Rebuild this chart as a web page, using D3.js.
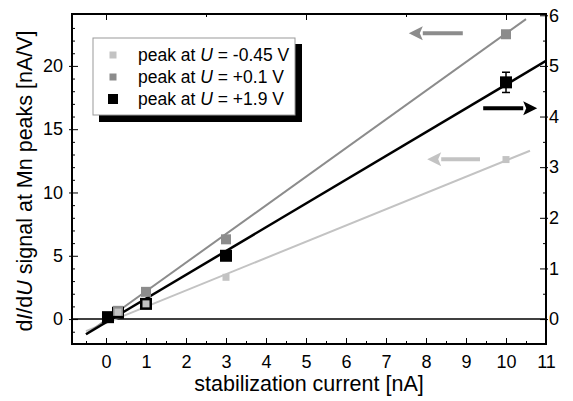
<!DOCTYPE html>
<html lang="en">
<head>
    <meta charset="UTF-8">
    <title>dI/dU signal vs stabilization current</title>
    <script src="https://d3js.org/d3.v7.min.js"></script>
    <style>
        body {
            margin: 0;
            background: #fff;
            font-family: "Liberation Sans", Arial, sans-serif;
        }
        .tick text {
            font-size: 18px;
            fill: #000;
        }
        .axis path, .axis line {
            stroke: #000;
        }
    </style>
</head>
<body>
    <svg id="chart" width="573" height="401"></svg>
    <script>
        // Data
        const seriesNames = ["-0.45 V", "+0.1 V", "+1.9 V"];
        const seriesColors = ["#c3c3c3", "#8c8c8c", "#000000"];

        const xLight = [0.3, 1, 3, 10];
        const yLight = [0.55, 1.2, 3.3, 12.6];
        const xGray = [0.3, 1, 3, 10];
        const yGray = [0.65, 2.15, 6.3, 22.5];
        const xBlack = [0.05, 0.3, 1, 3, 10];
        const yBlack = [0.15, 0.5, 1.2, 5.0, 18.7];
        const errBlack = [0, 0, 0, 0, 0.8];

        // fitted lines: [x start, y start, x end, y end]
        const fitLight = [-0.5, -0.95, 10.6, 13.3];
        const fitGray = [-0.5, -1.2, 10.5, 23.7];
        const fitBlack = [-0.5, -1.2, 11, 20.4];

        const xTicks = [0, 1, 2, 3, 4, 5, 6, 7, 8, 9, 10, 11];
        const yTicks = [0, 5, 10, 15, 20];
        const yRightTicks = [0, 1, 2, 3, 4, 5, 6];

        // Layout
        const pLeft = 72, pRight = 546, pTop = 14, pBottom = 344;
        const svg = d3.select("#chart");

        const x = d3.scaleLinear().domain([-0.85, 11]).range([pLeft, pRight]);
        const y = d3.scaleLinear().domain([-1.97, 24.1]).range([pBottom, pTop]);
        const yR = d3.scaleLinear().domain([-1.97 / 4, 24.1 / 4]).range([pBottom, pTop]);

        // minor ticks
        const xMinor = d3.range(-0.5, 11, 0.5).filter(v => !Number.isInteger(v));
        const yMinor = d3.range(-1, 24, 1).filter(v => v % 5 !== 0);
        const yRMinor = d3.range(0.5, 6, 1);

        function minor(axis) {
            return g => {
                g.call(axis);
                g.select(".domain").remove();
                g.selectAll("text").remove();
            };
        }

        // bottom
        svg.append("g").attr("class", "axis")
            .attr("transform", `translate(0,${pBottom})`)
            .call(minor(d3.axisBottom(x).tickValues(xMinor).tickSize(-3)));
        const gx = svg.append("g").attr("class", "axis")
            .attr("transform", `translate(0,${pBottom})`)
            .call(d3.axisBottom(x).tickValues(xTicks).tickSize(-6).tickPadding(11).tickSizeOuter(0));
        gx.select(".domain").remove();

        // top (ticks every 2.5)
        svg.append("g").attr("class", "axis")
            .attr("transform", `translate(0,${pTop})`)
            .call(minor(d3.axisTop(x).tickValues([0, 5, 10]).tickSize(-6)));
        svg.append("g").attr("class", "axis")
            .attr("transform", `translate(0,${pTop})`)
            .call(minor(d3.axisTop(x).tickValues([2.5, 7.5]).tickSize(-3)));

        // left
        svg.append("g").attr("class", "axis")
            .attr("transform", `translate(${pLeft},0)`)
            .call(minor(d3.axisLeft(y).tickValues(yMinor).tickSize(-3)));
        const gy = svg.append("g").attr("class", "axis")
            .attr("transform", `translate(${pLeft},0)`)
            .call(d3.axisLeft(y).tickValues(yTicks).tickSize(-6).tickPadding(9).tickSizeOuter(0));
        gy.select(".domain").remove();
        gy.selectAll(".tick line").attr("x1", -3);

        // right
        svg.append("g").attr("class", "axis")
            .attr("transform", `translate(${pRight},0)`)
            .call(minor(d3.axisRight(yR).tickValues(yRMinor).tickSize(-3)));
        const gyr = svg.append("g").attr("class", "axis")
            .attr("transform", `translate(${pRight},0)`)
            .call(d3.axisRight(yR).tickValues(yRightTicks).tickFormat(d3.format("d"))
                .tickSize(-6).tickPadding(3).tickSizeOuter(0));
        gyr.select(".domain").remove();
        gyr.selectAll(".tick line").attr("x1", 2);

        // frame
        svg.append("rect")
            .attr("x", pLeft).attr("y", pTop)
            .attr("width", pRight - pLeft).attr("height", pBottom - pTop)
            .attr("fill", "none").attr("stroke", "#000").attr("stroke-width", 2);

        // zero line
        svg.append("line")
            .attr("x1", pLeft).attr("x2", pRight)
            .attr("y1", y(0)).attr("y2", y(0))
            .attr("stroke", "#000").attr("stroke-width", 1.5);

        // fit lines
        const fits = [
            { f: fitLight, c: seriesColors[0], w: 2 },
            { f: fitGray, c: seriesColors[1], w: 2 },
            { f: fitBlack, c: seriesColors[2], w: 2.5 }
        ];
        svg.append("clipPath").attr("id", "clip")
            .append("rect").attr("x", pLeft).attr("y", pTop)
            .attr("width", pRight - pLeft).attr("height", pBottom - pTop);
        svg.append("g").attr("clip-path", "url(#clip)")
            .selectAll("line").data(fits).enter().append("line")
            .attr("x1", d => x(d.f[0])).attr("y1", d => y(d.f[1]))
            .attr("x2", d => x(d.f[2])).attr("y2", d => y(d.f[3]))
            .attr("stroke", d => d.c).attr("stroke-width", d => d.w);

        // error bars (black series)
        const errG = svg.append("g");
        xBlack.forEach((xv, i) => {
            if (!errBlack[i]) return;
            const cx = x(xv), y1 = y(yBlack[i] - errBlack[i]), y2 = y(yBlack[i] + errBlack[i]);
            errG.append("line").attr("x1", cx).attr("x2", cx).attr("y1", y1).attr("y2", y2)
                .attr("stroke", "#000").attr("stroke-width", 1.5);
            [y1, y2].forEach(yy => errG.append("line")
                .attr("x1", cx - 4).attr("x2", cx + 4).attr("y1", yy).attr("y2", yy)
                .attr("stroke", "#000").attr("stroke-width", 1.5));
        });

        // points
        function squares(xs, ys, color, size) {
            svg.append("g").selectAll("rect")
                .data(xs.map((v, i) => [v, ys[i]]))
                .enter().append("rect")
                .attr("x", d => x(d[0]) - size / 2)
                .attr("y", d => y(d[1]) - size / 2)
                .attr("width", size).attr("height", size)
                .attr("fill", color);
        }
        squares(xBlack, yBlack, seriesColors[2], 12);
        squares(xGray, yGray, seriesColors[1], 10);
        squares(xLight, yLight, seriesColors[0], 7);

        // arrows
        const arrows = [
            { x0: 8.92, x1: 7.57, yv: 22.57, c: "#8c8c8c" },
            { x0: 9.35, x1: 8.03, yv: 12.63, c: "#c3c3c3" },
            { x0: 9.43, x1: 10.78, yv: 16.65, c: "#000" }
        ];
        arrows.forEach(a => {
            const sx = x(a.x0), ex = x(a.x1), yy = y(a.yv);
            const dir = Math.sign(ex - sx);
            const hl = 14, hw = 7;
            svg.append("line")
                .attr("x1", sx).attr("x2", ex - dir * hl).attr("y1", yy).attr("y2", yy)
                .attr("stroke", a.c).attr("stroke-width", 4);
            svg.append("path")
                .attr("d", `M${ex},${yy}L${ex - dir * hl},${yy - hw}L${ex - dir * (hl - 3)},${yy}L${ex - dir * hl},${yy + hw}Z`)
                .attr("fill", a.c);
        });

        // legend
        const lg = svg.append("g").attr("transform", "translate(93,38)");
        lg.append("rect").attr("x", 6).attr("y", 6).attr("width", 203).attr("height", 78).attr("fill", "#000");
        lg.append("rect").attr("x", 0).attr("y", 0).attr("width", 202).attr("height", 77)
            .attr("fill", "#fff").attr("stroke", "#999").attr("stroke-width", 1);
        const legendSizes = [7, 7, 10];
        seriesNames.forEach((name, i) => {
            const ly = 17 + i * 22;
            lg.append("rect")
                .attr("x", 20 - legendSizes[i] / 2).attr("y", ly - legendSizes[i] / 2)
                .attr("width", legendSizes[i]).attr("height", legendSizes[i])
                .attr("fill", seriesColors[i]);
            const t = lg.append("text").attr("x", 45).attr("y", ly + 6)
                .style("font-size", "17.5px");
            t.append("tspan").text("peak at ");
            t.append("tspan").style("font-style", "italic").text("U");
            t.append("tspan").text(" = " + name);
        });

        // axis labels
        const yl = svg.append("text")
            .attr("transform", `translate(32,${(pTop + pBottom) / 2 + 2}) rotate(-90)`)
            .attr("text-anchor", "middle")
            .style("font-size", "21.5px");
        yl.append("tspan").text("d");
        yl.append("tspan").style("font-style", "italic").text("I");
        yl.append("tspan").text("/d");
        yl.append("tspan").style("font-style", "italic").text("U");
        yl.append("tspan").text(" signal at Mn peaks [nA/V]");

        svg.append("text")
            .attr("x", (pLeft + pRight) / 2).attr("y", 391)
            .attr("text-anchor", "middle")
            .style("font-size", "21.5px")
            .text("stabilization current [nA]");
    </script>
</body>
</html>
